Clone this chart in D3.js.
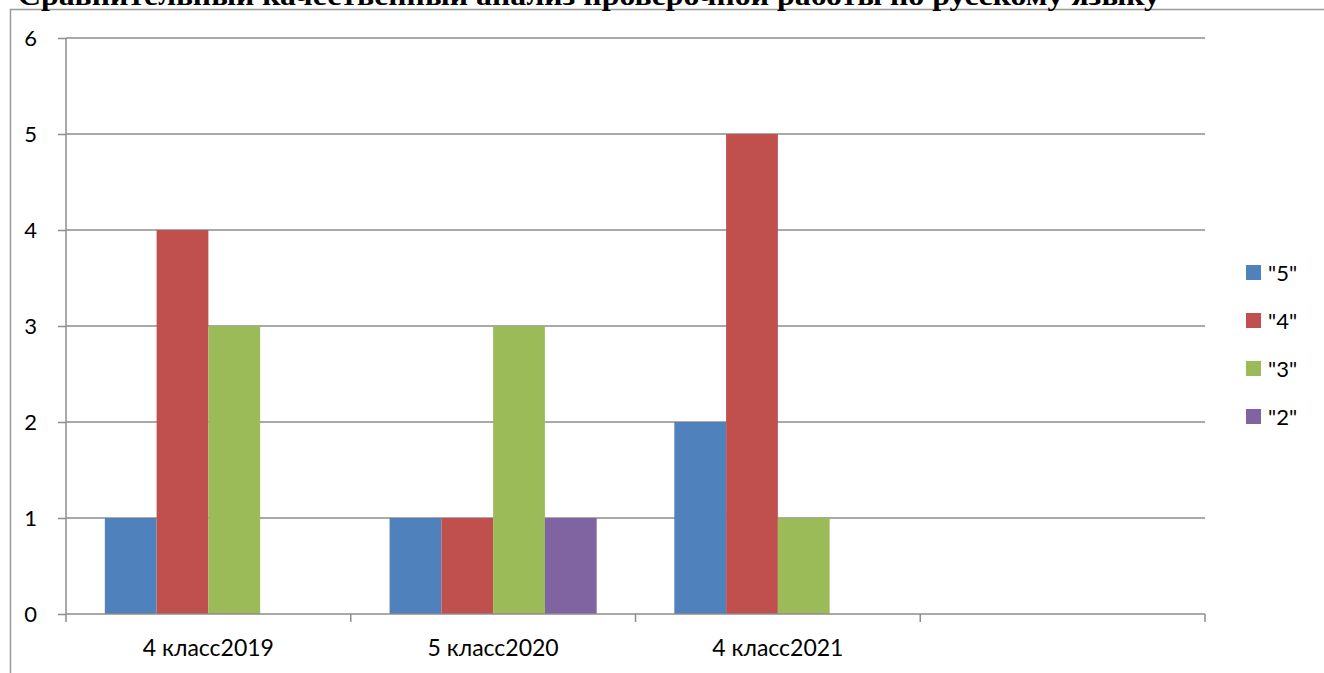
<!DOCTYPE html>
<html>
<head>
<meta charset="utf-8">
<script src="https://cdn.jsdelivr.net/npm/d3@7"></script>
<style>
  body{margin:0;background:#fff;overflow:hidden}
  svg{display:block}
</style>
</head>
<body>
<svg id="chart" width="1324" height="673"></svg>
<script>
// data
var categories=["4 класс2019","5 класс2020","4 класс2021",""];
var seriesNames=['"5"','"4"','"3"','"2"'];
var marks5=[1,1,2,null];
var marks4=[4,1,5,null];
var marks3=[3,3,1,null];
var marks2=[null,1,null,null];
var yTicks=[0,1,2,3,4,5,6];
var colors=["#4F81BD","#C0504D","#9BBB59","#8064A2"];
var title="Сравнительный качественный анализ проверочной работы по русскому языку";

var allSeries=[marks5,marks4,marks3,marks2];
var font="Lato,'Open Sans',sans-serif";

var svg=d3.select("#chart");
var plotL=66,plotR=1205,plotT=38,plotB=614;

// outer frame (runs off the picture on right and bottom)
svg.append("rect").attr("x",10.5).attr("y",9.5).attr("width",1400).attr("height",800)
  .attr("fill","none").attr("stroke","#9a9a9a").attr("stroke-width",1.5);

// title, clipped at the top of the picture
svg.append("text").attr("x",18).attr("y",5)
  .attr("font-family","'Liberation Serif','Times New Roman',serif")
  .attr("font-weight","bold").attr("font-size",28)
  .attr("textLength",1142).attr("lengthAdjust","spacingAndGlyphs")
  .text(title);

var x=d3.scaleBand().domain(d3.range(categories.length)).range([plotL,plotR]);
var bw=x.bandwidth()/5.5; // excel gap width 150%
var y=d3.scaleLinear().domain([0,6]).range([plotB,plotT]);

// gridlines
svg.append("g").selectAll("line").data(yTicks.filter(function(d){return d>0})).enter().append("line")
  .attr("x1",plotL).attr("x2",plotR).attr("y1",function(d){return y(d)}).attr("y2",function(d){return y(d)})
  .attr("stroke","#8c8c8c").attr("stroke-width",1.5);

// bars
allSeries.forEach(function(vals,si){
  var pts=vals.map(function(v,i){return {i:i,v:v}}).filter(function(p){return p.v!=null});
  svg.append("g").selectAll("rect").data(pts).enter().append("rect")
    .attr("x",function(p){return x(p.i)+bw*0.75+si*bw})
    .attr("width",bw)
    .attr("y",function(p){return y(p.v)})
    .attr("height",function(p){return y(0)-y(p.v)})
    .attr("fill",colors[si]);
});

// y axis
var yAxis=d3.axisLeft(y).tickValues(yTicks).tickSize(8).tickPadding(21).tickFormat(d3.format("d"));
var gy=svg.append("g").attr("transform","translate("+plotL+",0)").call(yAxis);
gy.select(".domain").attr("stroke","#8c8c8c").attr("stroke-width",1.5).attr("d","M0,"+plotT+"V"+plotB);
gy.selectAll(".tick line").attr("stroke","#8c8c8c").attr("stroke-width",1.5);
gy.selectAll("text").attr("font-family",font).attr("font-size",22).attr("fill","#000");

// x axis, ticks at the category boundaries
var bounds=d3.range(categories.length+1).map(function(i){return i<categories.length?x(i):plotR});
var gx=svg.append("g");
gx.append("line").attr("x1",plotL).attr("x2",plotR).attr("y1",plotB).attr("y2",plotB)
  .attr("stroke","#8c8c8c").attr("stroke-width",1.5);
gx.selectAll("line.t").data(bounds).enter().append("line").attr("class","t")
  .attr("x1",function(d){return d}).attr("x2",function(d){return d})
  .attr("y1",plotB).attr("y2",plotB+8).attr("stroke","#8c8c8c").attr("stroke-width",1.5);
gx.selectAll("text").data(categories).enter().append("text")
  .attr("x",function(d,i){return x(i)+x.bandwidth()/2})
  .attr("y",656).attr("text-anchor","middle")
  .attr("font-family",font).attr("font-size",23)
  .text(function(d){return d});

// legend
var lg=svg.append("g").selectAll("g").data(seriesNames).enter().append("g")
  .attr("transform",function(d,i){return "translate(1246,"+(265+i*48)+")"});
lg.append("rect").attr("width",15).attr("height",15).attr("fill",function(d,i){return colors[i]});
lg.append("text").attr("x",22).attr("y",16).attr("font-family",font)
  .attr("font-size",22).text(function(d){return d});
</script>
</body>
</html>
